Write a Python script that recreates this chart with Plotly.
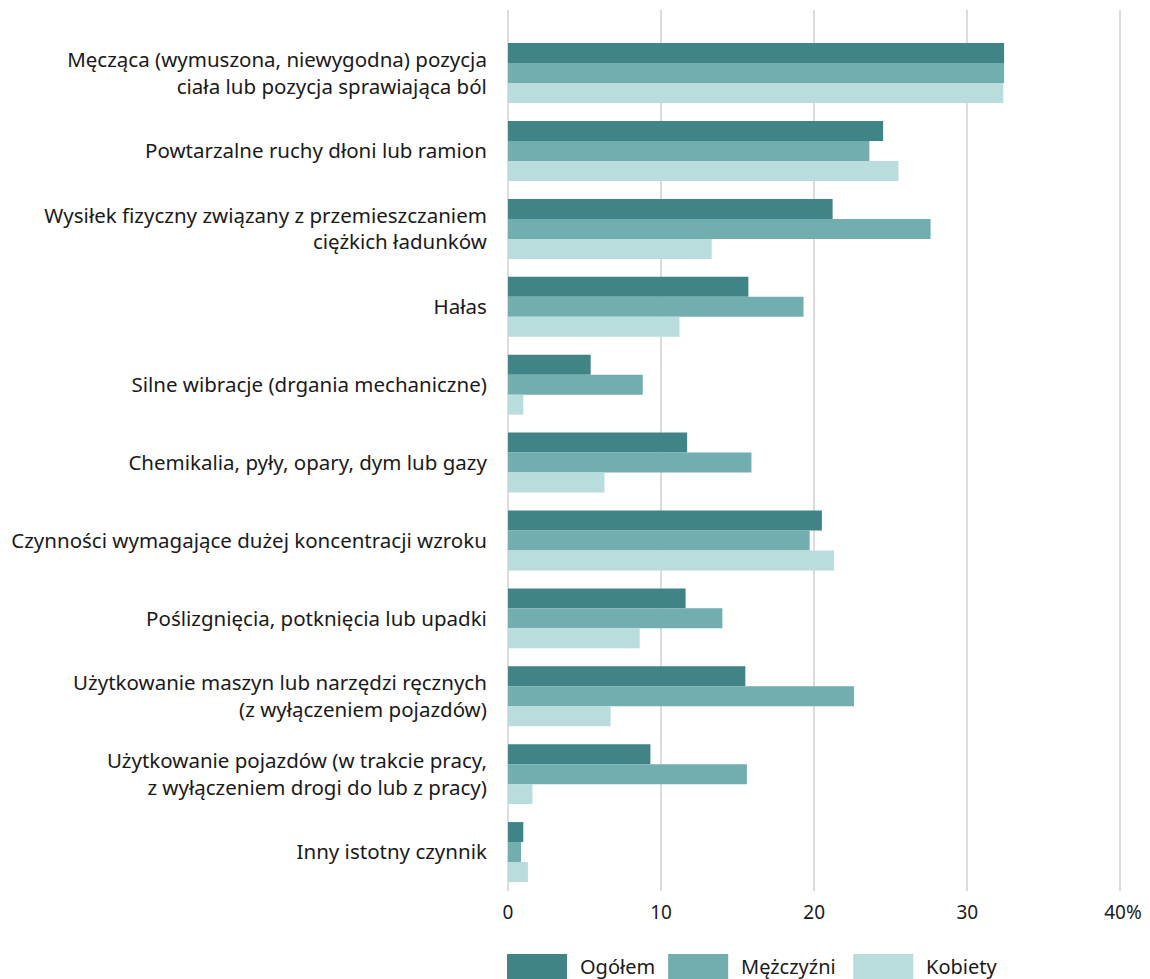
import plotly.graph_objects as go

categories = [
    "Męcząca (wymuszona, niewygodna) pozycja<br>ciała lub pozycja sprawiająca ból",
    "Powtarzalne ruchy dłoni lub ramion",
    "Wysiłek fizyczny związany z przemieszczaniem<br>ciężkich ładunków",
    "Hałas",
    "Silne wibracje (drgania mechaniczne)",
    "Chemikalia, pyły, opary, dym lub gazy",
    "Czynności wymagające dużej koncentracji wzroku",
    "Poślizgnięcia, potknięcia lub upadki",
    "Użytkowanie maszyn lub narzędzi ręcznych<br>(z wyłączeniem pojazdów)",
    "Użytkowanie pojazdów (w trakcie pracy,<br>z wyłączeniem drogi do lub z pracy)",
    "Inny istotny czynnik",
]
ogolem = [32.4, 24.5, 21.2, 15.7, 5.4, 11.7, 20.5, 11.6, 15.5, 9.3, 1.0]
mezczyzni = [32.4, 23.6, 27.6, 19.3, 8.8, 15.9, 19.7, 14.0, 22.6, 15.6, 0.85]
kobiety = [32.35, 25.5, 13.3, 11.2, 1.0, 6.3, 21.3, 8.6, 6.7, 1.6, 1.3]

series_names = ["Ogółem", "Mężczyźni", "Kobiety"]
series_values = [ogolem, mezczyzni, kobiety]
colors = ["#418488", "#72adaf", "#b9dcdd"]

tick_vals = [0, 10, 20, 30, 40]
tick_text = ["0", "10", "20", "30", "&nbsp;40%"]

FONT = "Noto Sans"
TXT = "#1a1a1a"

# page body has an 8px margin; figure is sized so the plot sits where the reference's does
W, H = 1142, 971
L, T, B = 500, 2, 88
XMAX = 40.1
PW = 612 * XMAX / 40
R = W - L - PW
PH = H - T - B

fig = go.Figure()
for name, vals, col in zip(series_names, series_values, colors):
    fig.add_trace(go.Bar(
        y=categories, x=vals, name=name, orientation="h",
        marker=dict(color=col, line=dict(width=0)),
        showlegend=False,
    ))

fig.update_layout(
    width=W, height=H,
    paper_bgcolor="white", plot_bgcolor="white",
    barmode="group", bargap=0.23, bargroupgap=0,
    margin=dict(l=L, r=R, t=T, b=B, pad=0),
    font=dict(family=FONT, size=20.5, color=TXT),
    xaxis=dict(
        range=[0, XMAX], tickvals=tick_vals, ticktext=tick_text,
        showgrid=True, gridcolor="#dcdcdc", gridwidth=2,
        zeroline=True, zerolinecolor="#dcdcdc", zerolinewidth=2,
        showline=False, ticks="outside", ticklen=4, tickcolor="rgba(0,0,0,0)",
        tickfont=dict(size=19),
    ),
    yaxis=dict(
        range=[10.5, -0.81], showgrid=False, zeroline=False, showline=False,
        ticks="outside", ticklen=16, tickcolor="rgba(0,0,0,0)",
        tickfont=dict(size=20.5), automargin=False,
    ),
)

# custom legend with wide swatches (page coordinates of reference, shifted by body margin)
leg_x = [507, 668, 853]
def px_to_paper_x(px):
    return (px - 8 - L) / PW
def px_to_paper_y(py):
    return (H - B - (py - 8)) / PH

for name, col, x0 in zip(series_names, colors, leg_x):
    fig.add_shape(type="rect", xref="paper", yref="paper",
                  x0=px_to_paper_x(x0), x1=px_to_paper_x(x0 + 60),
                  y0=px_to_paper_y(979), y1=px_to_paper_y(954),
                  fillcolor=col, line=dict(width=0))
    fig.add_annotation(xref="paper", yref="paper",
                       x=px_to_paper_x(x0 + 71), y=px_to_paper_y(966),
                       text=name, showarrow=False, xanchor="left", yanchor="middle",
                       font=dict(size=20, family=FONT, color=TXT))

fig.write_html("out.html")
